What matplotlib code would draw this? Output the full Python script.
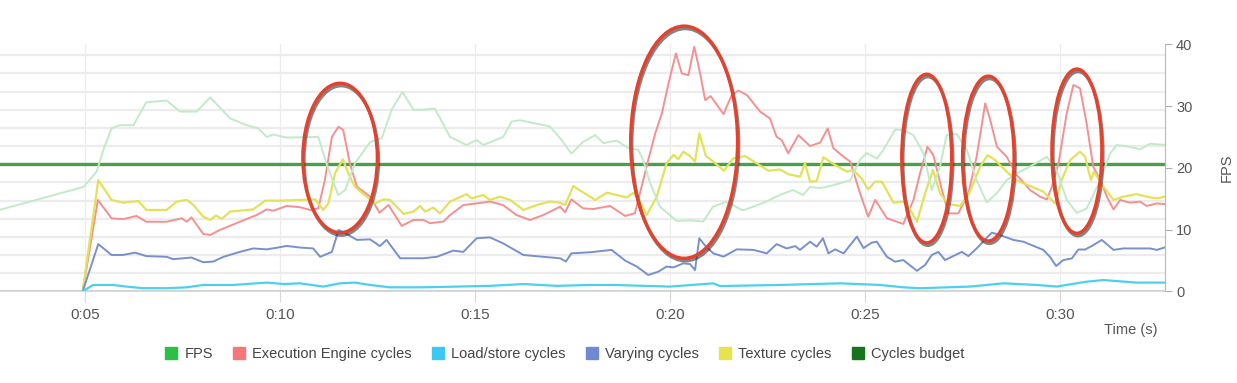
import matplotlib
matplotlib.use("Agg")
import matplotlib.pyplot as plt
import matplotlib.patheffects as pe
from matplotlib.patches import Ellipse, Patch

plt.rcParams["font.family"] = ["Liberation Sans", "DejaVu Sans"]

# ---- data (time in s) ----
# FPS, right axis
fps_t = [2.82, 4.96, 5.30, 5.47, 5.68, 5.90, 6.24, 6.57, 7.09, 7.44,
         7.86, 8.21, 8.72, 9.14, 9.44, 9.66, 9.83, 10.17, 10.98, 11.19,
         11.49, 11.67, 11.92, 12.31, 12.61, 12.86, 13.14, 13.42, 13.67, 13.97,
         14.36, 14.78, 15.04, 15.21, 15.72, 15.94, 16.15, 16.92, 17.22, 17.47,
         17.77, 18.08, 18.29, 18.63, 18.93, 19.18, 19.31, 19.49, 19.74, 20.17,
         20.51, 20.85, 21.10, 21.44, 21.87, 22.38, 22.82, 23.15, 23.41, 23.59,
         23.85, 24.19, 24.62, 24.87, 25.04, 25.30, 25.47, 25.77, 25.98, 26.24,
         26.50, 26.71, 26.92, 27.09, 27.35, 27.61, 27.86, 28.12, 28.38, 28.63,
         28.89, 29.23, 29.66, 29.91, 30.17, 30.43, 30.68, 31.03, 31.28, 31.45,
         31.79, 32.05, 32.31, 32.69]
fps_v = [13.2, 16.9, 19.4, 22.9, 26.4, 26.9, 26.9, 30.6, 30.9, 29.1,
         29.1, 31.4, 28.0, 26.9, 26.4, 25.0, 25.4, 24.9, 25.0, 20.7,
         15.6, 16.4, 20.7, 24.2, 24.8, 29.4, 32.3, 29.4, 29.4, 29.6,
         25.0, 23.7, 24.5, 23.7, 25.0, 27.5, 27.7, 26.7, 24.5, 22.3,
         24.2, 25.3, 24.0, 24.4, 23.2, 22.9, 21.3, 17.5, 13.7, 11.4,
         11.5, 11.3, 13.7, 14.5, 13.1, 14.3, 15.6, 16.4, 15.6, 16.9,
         16.7, 17.2, 18.0, 21.3, 22.4, 21.5, 22.9, 26.2, 26.1, 25.3,
         22.3, 16.4, 20.2, 25.3, 25.5, 22.9, 18.0, 14.4, 15.9, 18.0,
         19.1, 20.2, 21.8, 19.6, 14.8, 12.7, 13.4, 18.0, 22.3, 23.7,
         23.4, 23.0, 23.9, 23.7]

# cycles series, hidden left axis (one gridline = 1 unit)
exec_t = [4.94, 5.33, 5.68, 5.97, 6.32, 6.57, 7.09, 7.48, 7.61, 7.73,
          8.03, 8.21, 8.46, 8.97, 9.40, 9.66, 9.83, 10.17, 10.51, 10.77,
          10.98, 11.15, 11.33, 11.50, 11.62, 11.79, 11.97, 12.31, 12.55, 12.78,
          13.12, 13.42, 13.67, 13.85, 14.19, 14.36, 14.70, 15.04, 15.38, 15.72,
          16.06, 16.41, 16.75, 17.18, 17.31, 17.47, 17.77, 18.03, 18.46, 18.85,
          19.10, 19.27, 19.44, 19.62, 19.79, 19.96, 20.15, 20.30, 20.47, 20.62,
          20.77, 20.90, 21.04, 21.37, 21.58, 21.75, 21.97, 22.31, 22.56, 22.73,
          22.86, 23.03, 23.29, 23.59, 23.85, 24.04, 24.19, 24.45, 24.62, 24.87,
          25.08, 25.26, 25.56, 25.98, 26.24, 26.41, 26.60, 26.75, 26.97, 27.14,
          27.39, 27.65, 27.86, 28.08, 28.21, 28.38, 28.63, 28.89, 29.23, 29.49,
          29.66, 29.79, 29.96, 30.17, 30.34, 30.51, 30.68, 30.85, 31.03, 31.20,
          31.37, 31.54, 31.79, 32.05, 32.22, 32.48, 32.69]
exec_v = [0.0, 5.03, 4.02, 3.97, 4.15, 3.83, 3.83, 4.02, 3.83, 4.07,
          3.16, 3.10, 3.38, 3.83, 4.20, 4.51, 4.44, 4.70, 4.63, 4.48,
          4.57, 6.13, 8.51, 9.06, 8.88, 7.05, 5.76, 5.21, 4.33, 4.75,
          3.60, 3.93, 3.93, 3.75, 3.84, 4.20, 4.75, 4.84, 4.94, 4.75,
          4.20, 3.93, 4.20, 4.66, 4.35, 5.06, 4.57, 4.53, 4.70, 4.15,
          4.30, 5.76, 7.23, 8.70, 9.80, 11.45, 13.10, 12.00, 11.90, 13.47,
          12.00, 10.53, 10.75, 9.76, 10.81, 11.05, 10.81, 9.89, 9.52, 8.51,
          8.33, 7.60, 8.60, 8.00, 8.19, 8.97, 7.87, 7.41, 7.14, 5.40,
          4.11, 5.03, 4.02, 3.71, 5.03, 6.50, 7.96, 7.50, 5.58, 4.29,
          4.29, 5.40, 7.41, 10.35, 9.43, 7.96, 7.41, 6.40, 5.58, 5.21,
          5.06, 5.76, 7.05, 9.80, 11.36, 11.18, 9.25, 6.86, 6.13, 5.21,
          4.51, 5.03, 4.88, 4.94, 4.70, 4.84, 4.80]

loadstore_t = [4.94, 5.21, 5.72, 6.06, 6.49, 7.09, 7.61, 8.03, 8.80, 9.66,
               10.09, 10.51, 11.11, 11.54, 11.92, 12.31, 12.82, 13.67, 14.53, 15.38,
               16.24, 17.09, 17.95, 18.55, 20.00, 21.11, 21.28, 22.82, 24.36, 25.38,
               25.98, 26.41, 27.69, 28.55, 29.40, 29.91, 30.68, 31.11, 31.96, 32.69]
loadstore_v = [0.0, 0.35, 0.35, 0.26, 0.17, 0.17, 0.22, 0.35, 0.35, 0.48,
               0.40, 0.44, 0.26, 0.44, 0.48, 0.35, 0.22, 0.22, 0.26, 0.30,
               0.40, 0.30, 0.35, 0.35, 0.26, 0.44, 0.29, 0.35, 0.44, 0.35,
               0.22, 0.17, 0.26, 0.44, 0.35, 0.26, 0.53, 0.62, 0.48, 0.48]

varying_t = [4.94, 5.34, 5.68, 5.97, 6.28, 6.57, 7.09, 7.26, 7.73, 8.03,
             8.29, 8.55, 8.97, 9.31, 9.66, 9.92, 10.17, 10.51, 10.85, 11.03,
             11.33, 11.50, 11.67, 11.97, 12.31, 12.56, 12.73, 13.08, 13.67, 14.02,
             14.44, 14.70, 15.04, 15.38, 15.72, 16.24, 16.75, 17.18, 17.33, 17.47,
             17.95, 18.08, 18.50, 18.85, 19.15, 19.44, 19.70, 19.91, 20.09, 20.34,
             20.51, 20.64, 20.75, 20.92, 21.11, 21.37, 21.71, 22.14, 22.48, 22.73,
             22.99, 23.21, 23.33, 23.59, 23.76, 23.92, 24.06, 24.23, 24.45, 24.79,
             24.96, 25.17, 25.30, 25.56, 25.77, 25.98, 26.33, 26.54, 26.71, 26.88,
             27.05, 27.26, 27.48, 27.65, 27.86, 28.08, 28.25, 28.46, 28.80, 29.06,
             29.57, 29.74, 29.90, 30.08, 30.30, 30.47, 30.64, 30.85, 31.07, 31.37,
             31.62, 31.96, 32.31, 32.48, 32.69]
varying_v = [0.0, 2.60, 2.00, 2.00, 2.13, 1.94, 1.90, 1.77, 1.86, 1.60,
             1.64, 1.90, 2.17, 2.36, 2.31, 2.40, 2.50, 2.41, 2.36, 1.90,
             2.17, 3.38, 3.20, 2.83, 2.86, 2.49, 2.83, 1.82, 1.82, 1.90,
             2.24, 2.17, 2.92, 2.97, 2.64, 2.00, 1.90, 1.82, 1.64, 2.09,
             2.15, 2.18, 2.28, 1.69, 1.36, 0.90, 1.08, 1.36, 1.32, 1.54,
             1.50, 1.17, 2.92, 2.46, 2.09, 1.91, 2.31, 2.28, 2.09, 2.60,
             2.36, 2.49, 2.28, 2.73, 2.46, 2.92, 2.09, 2.31, 2.09, 3.01,
             2.38, 2.68, 2.73, 1.90, 1.63, 1.72, 1.13, 1.45, 2.00, 2.17,
             1.72, 1.94, 2.17, 1.94, 2.36, 2.86, 3.23, 3.10, 2.83, 2.73,
             2.28, 1.90, 1.39, 1.72, 1.81, 2.30, 2.30, 2.54, 2.83, 2.28,
             2.36, 2.36, 2.36, 2.28, 2.42]

texture_t = [4.94, 5.34, 5.68, 5.97, 6.37, 6.57, 7.09, 7.35, 7.61, 7.78,
             8.03, 8.21, 8.36, 8.51, 8.72, 8.97, 9.31, 9.62, 10.00, 10.51,
             10.90, 11.11, 11.24, 11.41, 11.61, 11.75, 11.92, 12.14, 12.44, 12.65,
             12.82, 13.17, 13.42, 13.59, 13.72, 13.93, 14.10, 14.36, 14.78, 14.91,
             15.21, 15.38, 15.64, 15.90, 16.24, 16.58, 16.92, 17.18, 17.31, 17.52,
             17.74, 18.08, 18.38, 18.63, 18.89, 19.06, 19.23, 19.40, 19.66, 19.91,
             20.09, 20.21, 20.34, 20.51, 20.64, 20.75, 20.92, 21.11, 21.38, 21.62,
             21.92, 22.22, 22.52, 22.82, 23.03, 23.33, 23.46, 23.59, 23.76, 23.93,
             24.19, 24.53, 24.70, 24.91, 25.08, 25.26, 25.43, 25.73, 25.98, 26.14,
             26.33, 26.54, 26.74, 26.92, 27.14, 27.44, 27.69, 27.95, 28.14, 28.33,
             28.63, 28.89, 29.23, 29.57, 29.87, 30.04, 30.26, 30.51, 30.64, 30.79,
             30.87, 31.11, 31.37, 31.62, 31.96, 32.22, 32.48, 32.69]
texture_v = [0.0, 6.13, 5.03, 4.88, 4.97, 4.48, 4.48, 4.94, 5.03, 4.75,
             4.11, 3.93, 4.17, 3.99, 4.39, 4.44, 4.51, 4.99, 4.99, 5.03,
             5.06, 4.48, 4.84, 6.50, 7.27, 6.50, 5.76, 5.35, 4.84, 5.06,
             5.03, 4.26, 4.39, 4.70, 4.39, 4.61, 4.29, 4.94, 5.35, 5.12,
             5.30, 5.03, 5.21, 5.03, 4.48, 4.75, 4.94, 4.88, 4.75, 5.80,
             5.49, 5.03, 5.43, 5.30, 5.17, 5.43, 4.94, 4.20, 5.21, 7.05,
             7.51, 7.27, 7.69, 7.45, 7.14, 8.70, 7.45, 7.14, 6.64, 7.32,
             7.45, 7.05, 6.64, 6.71, 6.45, 6.31, 7.05, 6.04, 6.07, 7.38,
             7.01, 6.59, 6.68, 6.22, 5.61, 6.04, 6.04, 4.88, 4.94, 4.57,
             3.83, 5.40, 6.68, 5.40, 4.80, 4.70, 5.49, 6.86, 7.50, 7.23,
             6.59, 6.09, 5.80, 5.49, 4.84, 6.13, 7.23, 7.69, 7.41, 6.13,
             6.59, 5.76, 5.03, 5.21, 5.35, 5.21, 5.12, 5.21]

cycles_budget = 7

time_ticks = [5, 10, 15, 20, 25, 30]
time_labels = ["0:05", "0:10", "0:15", "0:20", "0:25", "0:30"]
fps_ticks = [0, 10, 20, 30, 40]

# hand-drawn highlights: (centre time, centre fps, width s, height fps)
highlights = [(11.54, 21.6, 1.91, 24.2),
              (20.36, 24.15, 2.74, 37.6),
              (26.58, 21.5, 1.28, 27.3),
              (28.16, 21.5, 1.32, 26.7),
              (30.43, 22.7, 1.28, 26.6)]

legend_labels = ["FPS", "Execution Engine cycles", "Load/store cycles",
                 "Varying cycles", "Texture cycles", "Cycles budget"]
legend_colors = ["#2bbf45", "#f47878", "#3cc8f0", "#6f8ad0", "#e4e44c", "#16741a"]

# ---- figure ----
fig = plt.figure(figsize=(12.37, 3.83), dpi=100)
ax = fig.add_axes([0.0, 0.2394, 0.9418, 0.6449])
ax2 = ax.twinx()

ax.set_xlim(2.82, 32.69)
ax.set_ylim(0, 13.6)
ax.set_yticks(range(0, 14))
ax.tick_params(axis="y", left=False, right=False, labelleft=False, labelright=False)
ax.grid(axis="y", color="#ececec", lw=1.6)
ax.grid(axis="x", color="#ececec", lw=0.9)
ax.set_axisbelow(True)
for side in ["left", "top", "right"]:
    ax.spines[side].set_visible(False)
ax.spines["bottom"].set_color("#d0d0d0")
ax.spines["bottom"].set_linewidth(1.2)

ax.set_xticks(time_ticks)
ax.set_xticklabels(time_labels)
ax.tick_params(axis="x", length=8, color="#d8d8d8", labelsize=11, labelcolor="#555555", pad=4)

ax.axhline(cycles_budget, color="#4aa04a", lw=2.4, zorder=3)
ax.plot(exec_t, exec_v, color="#f59090", lw=1.4, zorder=4)
ax.plot(texture_t, texture_v, color="#e2e25a", lw=1.6, zorder=4)
ax.plot(varying_t, varying_v, color="#7890cc", lw=1.4, zorder=4)
ax.plot(loadstore_t, loadstore_v, color="#4dd0f0", lw=1.6, zorder=4)

ax2.set_ylim(0, 40)
ax2.plot(fps_t, fps_v, color="#c2eac8", lw=1.4)
ax2.set_yticks(fps_ticks)
ax2.tick_params(axis="y", left=False, length=5, color="#b0b0b0", labelsize=10.5,
                labelcolor="#555555", pad=3)
for side in ["left", "top", "bottom"]:
    ax2.spines[side].set_visible(False)
ax2.spines["right"].set_color("#b8b8b8")
ax2.set_ylabel("FPS", fontsize=10.5, color="#555555")
ax2.yaxis.set_label_coords(1.047, 0.5)

for cx, cy, w, h in highlights:
    ring = Ellipse((cx, cy), w, h, fill=False, edgecolor="#e3432e", lw=2.4,
                   clip_on=False, zorder=10)
    ring.set_path_effects([pe.SimpleLineShadow(offset=(0.8, -1.8), shadow_color="#222222",
                                               alpha=0.55),
                           pe.Normal()])
    ax2.add_patch(ring)

fig.text(1158 / 1237, 1 - 330 / 383, "Time (s)", ha="right", va="center",
         fontsize=10.5, color="#555555")

handles = [Patch(facecolor=c, edgecolor=c) for c in legend_colors]
fig.legend(handles, legend_labels, loc="center", bbox_to_anchor=(565 / 1237, 1 - 354 / 383),
           ncol=6, frameon=False, fontsize=10.5, handlelength=0.8, handleheight=0.8,
           handletextpad=0.5, columnspacing=1.4, labelcolor="#444444")

fig.savefig("out.png", dpi=100)
